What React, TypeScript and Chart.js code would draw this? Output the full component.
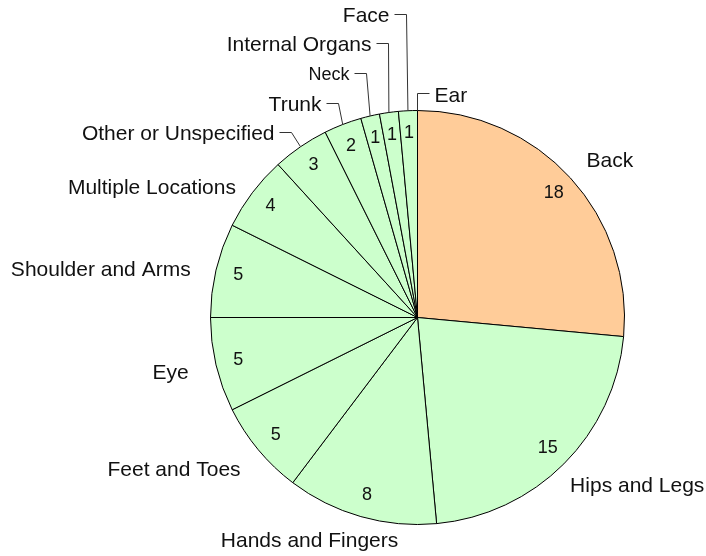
import { useEffect, useRef } from 'react';
import { Chart, registerables } from 'chart.js';

Chart.register(...registerables);

// ---- data ----
const categories = [
  'Back',
  'Hips and Legs',
  'Hands and Fingers',
  'Feet and Toes',
  'Eye',
  'Shoulder and Arms',
  'Multiple Locations',
  'Other or Unspecified',
  'Trunk',
  'Neck',
  'Internal Organs',
  'Face',
  'Ear',
];
const injuries = [18, 15, 8, 5, 5, 5, 4, 3, 2, 1, 1, 1, 0];

// ---- styles ----
const BACK_COLOR = '#FFCC99';
const OTHER_COLOR = '#CCFFCC';
const FONT_FAMILY = '"Liberation Sans", Arial, Helvetica, sans-serif';

type Layout =
  | { mode: 'radial'; align?: CanvasTextAlign; dx: number; dy: number; size?: number }
  | { mode: 'leader'; ky: number; ex: number; dir: number; size?: number };

// label placement relative to each slice (radial anchor + nudge, or leader line)
const labelLayout: Layout[] = [
  { mode: 'radial', dx: -1, dy: -1 },
  { mode: 'radial', dx: -10, dy: 6 },
  { mode: 'radial', align: 'center', dx: -45, dy: 3 },
  { mode: 'radial', dx: 0, dy: 6 },
  { mode: 'radial', dx: -5, dy: 3 },
  { mode: 'radial', dx: -3, dy: 5 },
  { mode: 'radial', dx: 2, dy: 9 },
  { mode: 'leader', ky: -0.884, ex: -10, dir: -1 },
  { mode: 'leader', ky: -1.024, ex: -5, dir: -1 },
  { mode: 'leader', ky: -1.169, ex: -4, dir: -1, size: 18 },
  { mode: 'leader', ky: -1.314, ex: -1, dir: -1 },
  { mode: 'leader', ky: -1.454, ex: -2, dir: -1 },
  { mode: 'leader', ky: -1.068, ex: 0, dir: 1 },
];

const pieLabels = {
  id: 'pieLabels',
  afterDatasetsDraw(chart: any) {
    const ctx: CanvasRenderingContext2D = chart.ctx;
    const meta = chart.getDatasetMeta(0);
    const values = chart.data.datasets[0].data as number[];
    ctx.save();
    meta.data.forEach((arc: any, i: number) => {
      const p = arc.getProps(['x', 'y', 'startAngle', 'endAngle', 'outerRadius'], true);
      const mid = (p.startAngle + p.endAngle) / 2;
      const r = p.outerRadius;
      const cos = Math.cos(mid);
      const sin = Math.sin(mid);

      // value inside slice
      if (values[i] >= 1) {
        ctx.fillStyle = '#111';
        ctx.font = `18px ${FONT_FAMILY}`;
        ctx.textAlign = 'center';
        ctx.textBaseline = 'middle';
        ctx.fillText(String(values[i]), p.x + cos * r * 0.89, p.y + sin * r * 0.89);
      }

      // category label
      const lay = labelLayout[i];
      const size = lay.size ?? 21;
      ctx.font = `${size}px ${FONT_FAMILY}`;
      ctx.fillStyle = '#111';
      ctx.textBaseline = 'middle';
      if (lay.mode === 'radial') {
        const d = r * 1.111;
        const ax = p.x + cos * d + lay.dx;
        const ay = p.y + sin * d + lay.dy;
        ctx.textAlign = lay.align ?? (cos >= 0 ? 'left' : 'right');
        ctx.fillText(categories[i], ax, ay);
      } else {
        const sx = p.x + cos * r;
        const sy = p.y + sin * r;
        const ty = p.y + lay.ky * r;
        const ey = Math.round(ty - 3) + 0.5;
        const ex = Math.round(sx + lay.ex) + 0.5;
        const hx = ex + lay.dir * 12;
        ctx.strokeStyle = '#333';
        ctx.lineWidth = 1;
        ctx.beginPath();
        ctx.moveTo(sx, sy);
        ctx.lineTo(ex, ey);
        ctx.lineTo(hx, ey);
        ctx.stroke();
        ctx.textAlign = lay.dir < 0 ? 'right' : 'left';
        ctx.fillText(categories[i], hx + lay.dir * 5, ty);
      }
    });
    ctx.restore();
  },
};

export default function App() {
  const canvasRef = useRef<HTMLCanvasElement | null>(null);

  useEffect(() => {
    const canvas = canvasRef.current;
    if (!canvas) return;
    const chart = new Chart(canvas, {
      type: 'pie',
      data: {
        labels: categories,
        datasets: [
          {
            data: injuries,
            backgroundColor: categories.map((_, i) => (i === 0 ? BACK_COLOR : OTHER_COLOR)),
            borderColor: '#000',
            borderWidth: 1,
          },
        ],
      },
      options: {
        responsive: false,
        animation: false,
        layout: { padding: { left: 210, right: 81, top: 110, bottom: 31 } },
        plugins: {
          legend: { display: false },
          tooltip: { enabled: false },
        },
      },
      plugins: [pieLabels],
    });
    return () => chart.destroy();
  }, []);

  return (
    <div style={{ position: 'absolute', left: 0, top: 0, width: 706, height: 556, background: '#fff' }}>
      <canvas ref={canvasRef} width={706} height={556} />
    </div>
  );
}
